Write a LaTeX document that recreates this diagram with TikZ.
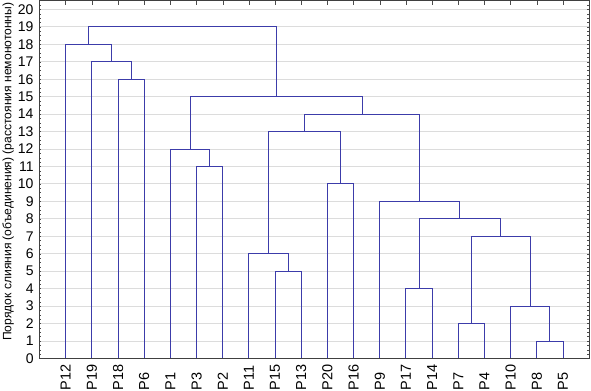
\documentclass[tikz,border=0pt]{standalone}
\usepackage{fontspec}
\setmainfont{Liberation Sans}
\definecolor{linkblue}{RGB}{60,60,170}
\definecolor{gridgray}{RGB}{220,220,220}
\begin{document}
\begin{tikzpicture}
        [x=26.17pt,y=17.45pt,
        link/.style={linkblue,line width=0.9pt},
        gridline/.style={gridgray,line width=0.9pt},
        frame/.style={black!75,line width=0.9pt},
        leaf/.style={rotate=90,anchor=west,inner sep=0pt,font=\fontsize{14.5}{15}\selectfont},
        tick/.style={anchor=east,inner sep=0pt,font=\fontsize{14}{15}\selectfont}]
        \useasboundingbox (-1.509,-1.862) rectangle (21.07,20.54);
        % grid and axis
        \foreach \k in {1,...,20} \draw[gridline] (0,\k) -- (21,\k);
        \foreach \k in {0,...,20} \node[tick] (y\k) at (-0.22,\k) {\k};
        \foreach \k in {0,...,82} {
          \draw[black!70,thin] (0,\k/4) -- ++(2pt,0);
          \draw[black!70,thin] (21,\k/4) -- ++(-2pt,0);}
        \foreach \i in {1,...,20} \draw[black!70,thin] (\i,20.5) -- ++(0,-4pt);
        \node[rotate=90,font=\fontsize{12.1}{13}\selectfont] (ytitle) at (-1.2,10.7)
          {Порядок слияния (объединения) (расстояния немонотонны)};
        % leaves
        \foreach \n [count=\i] in {12,19,18,6,1,3,2,11,15,13,20,16,9,17,14,7,4,10,8,5} {
          \coordinate (p\n) at (\i,0);
          \node[leaf] (l\n) at (\i,-1.82) {P\n};}
        % merges
        \coordinate (m1) at (19.5,1);
        \coordinate (m2) at (16.5,2);
        \coordinate (m3) at (18.75,3);
        \coordinate (m4) at (14.5,4);
        \coordinate (m5) at (9.5,5);
        \coordinate (m6) at (8.75,6);
        \coordinate (m7) at (17.625,7);
        \coordinate (m8) at (16.0625,8);
        \coordinate (m9) at (14.53125,9);
        \coordinate (m10) at (11.5,10);
        \coordinate (m11) at (6.5,11);
        \coordinate (m12) at (5.75,12);
        \coordinate (m13) at (10.125,13);
        \coordinate (m14) at (12.328,14);
        \coordinate (m15) at (9.039,15);
        \coordinate (m16) at (3.5,16);
        \coordinate (m17) at (2.75,17);
        \coordinate (m18) at (1.875,18);
        \coordinate (m19) at (5.457,19);
        \draw[link] (p8) |- (m1) -| (p5);
        \draw[link] (p7) |- (m2) -| (p4);
        \draw[link] (p10) |- (m3) -| (m1);
        \draw[link] (p17) |- (m4) -| (p14);
        \draw[link] (p15) |- (m5) -| (p13);
        \draw[link] (p11) |- (m6) -| (m5);
        \draw[link] (m2) |- (m7) -| (m3);
        \draw[link] (m4) |- (m8) -| (m7);
        \draw[link] (p9) |- (m9) -| (m8);
        \draw[link] (p20) |- (m10) -| (p16);
        \draw[link] (p3) |- (m11) -| (p2);
        \draw[link] (p1) |- (m12) -| (m11);
        \draw[link] (m6) |- (m13) -| (m10);
        \draw[link] (m13) |- (m14) -| (m9);
        \draw[link] (m12) |- (m15) -| (m14);
        \draw[link] (p18) |- (m16) -| (p6);
        \draw[link] (p19) |- (m17) -| (m16);
        \draw[link] (p12) |- (m18) -| (m17);
        \draw[link] (m18) |- (m19) -| (m15);
        \draw[frame] (0,0) rectangle (21,20.5);
\end{tikzpicture}
\end{document}
